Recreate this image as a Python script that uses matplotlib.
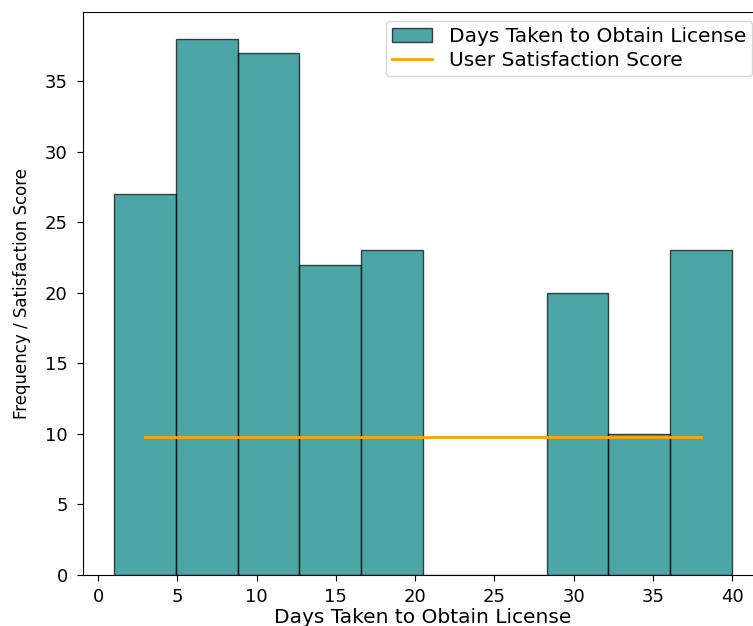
import matplotlib
matplotlib.use("Agg")
import matplotlib.pyplot as plt
import numpy as np

# Histogram of days taken (bin edges and counts)
bin_edges = [1.0, 4.9, 8.8, 12.7, 16.6, 20.5, 24.4, 28.3, 32.2, 36.1, 40.0]
counts = [27, 38, 37, 22, 23, 0, 0, 20, 10, 23]
# Satisfaction score plotted at bin centres
satisfaction = [9.75, 9.75, 9.75, 9.75, 9.75, 9.75, 9.75, 9.75, 9.75, 9.75]
xticks = [0, 5, 10, 15, 20, 25, 30, 35, 40]
yticks = [0, 5, 10, 15, 20, 25, 30, 35]

plt.rcParams['font.family'] = ['DejaVu Sans']

fig = plt.figure(figsize=(7.53, 6.26), dpi=100)
ax = fig.add_axes([83/753, 51/626, 680/753, 563/626])

edges = np.array(bin_edges)
centers = (edges[:-1] + edges[1:]) / 2
ax.hist(centers, bins=edges, weights=counts, color='teal', alpha=0.7,
        edgecolor='black', linewidth=1.0, label='Days Taken to Obtain License')
ax.plot(centers, satisfaction, color='orange', linewidth=2,
        label='User Satisfaction Score')

ax.set_xlim(-0.95, 41.95)
ax.set_ylim(0, 39.9)
ax.set_xticks(xticks)
ax.set_yticks(yticks)
ax.tick_params(labelsize=13, length=4.5)
ax.tick_params(axis='y', pad=6.5)
ax.tick_params(axis='x', pad=4.5)
ax.set_xlabel('Days Taken to Obtain License', fontsize=14.5, labelpad=2)
ax.set_ylabel('Frequency / Satisfaction Score', fontsize=12, labelpad=10)
ax.legend(loc='upper right', fontsize=14.5, borderpad=0.3, labelspacing=0.25,
          bbox_to_anchor=(752 / 753, 605 / 626), bbox_transform=fig.transFigure,
          borderaxespad=0)

fig.savefig('out.png', dpi=100)
